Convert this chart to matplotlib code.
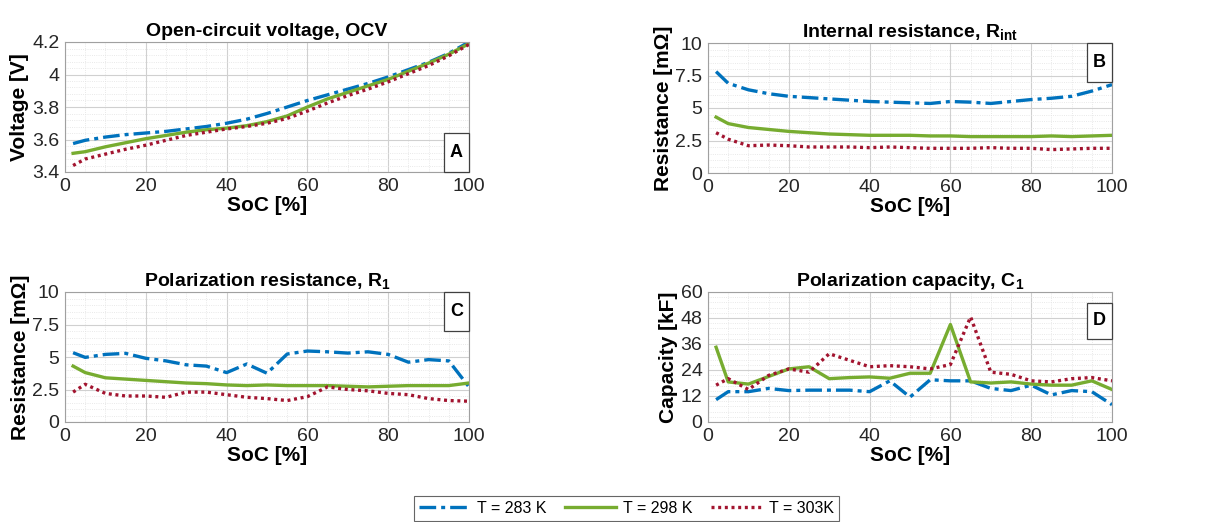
import matplotlib
matplotlib.use("Agg")
import matplotlib.pyplot as plt
import numpy as np
from matplotlib.ticker import MultipleLocator, AutoMinorLocator
from matplotlib.patches import Rectangle

plt.rcParams['font.family'] = ['Liberation Sans', 'DejaVu Sans']
plt.rcParams['mathtext.fontset'] = 'custom'
plt.rcParams['mathtext.rm'] = 'Liberation Sans'
plt.rcParams['mathtext.bf'] = 'Liberation Sans:bold'

soc = [2, 5, 10, 15, 20, 25, 30, 35, 40, 45, 50, 55, 60, 65, 70, 75, 80, 85, 90, 95, 100]

ocv_283 = [3.575, 3.595, 3.615, 3.63, 3.64, 3.65, 3.665, 3.68, 3.70, 3.725, 3.76, 3.80, 3.84, 3.875, 3.91, 3.945, 3.985, 4.03, 4.075, 4.13, 4.20]
ocv_298 = [3.515, 3.525, 3.555, 3.58, 3.605, 3.625, 3.645, 3.66, 3.67, 3.685, 3.71, 3.745, 3.80, 3.85, 3.89, 3.93, 3.97, 4.02, 4.07, 4.125, 4.19]
ocv_303 = [3.44, 3.48, 3.51, 3.54, 3.565, 3.595, 3.625, 3.645, 3.665, 3.68, 3.70, 3.73, 3.775, 3.825, 3.87, 3.91, 3.955, 4.005, 4.055, 4.115, 4.185]

rint_283 = [7.8, 6.9, 6.4, 6.1, 5.9, 5.8, 5.7, 5.6, 5.5, 5.45, 5.4, 5.35, 5.5, 5.45, 5.35, 5.5, 5.65, 5.75, 5.9, 6.3, 6.8]
rint_298 = [4.3, 3.8, 3.5, 3.35, 3.2, 3.1, 3.0, 2.95, 2.9, 2.9, 2.9, 2.85, 2.85, 2.8, 2.8, 2.8, 2.8, 2.85, 2.8, 2.85, 2.9]
rint_303 = [3.1, 2.6, 2.1, 2.15, 2.1, 2.0, 2.0, 2.0, 1.95, 2.0, 1.95, 1.9, 1.9, 1.9, 1.95, 1.9, 1.9, 1.8, 1.85, 1.9, 1.9]

r1_283 = [5.33, 4.97, 5.2, 5.28, 4.9, 4.7, 4.4, 4.3, 3.8, 4.46, 3.75, 5.23, 5.46, 5.4, 5.3, 5.4, 5.2, 4.6, 4.8, 4.7, 2.7]
r1_298 = [4.3, 3.8, 3.4, 3.3, 3.2, 3.1, 3.0, 2.95, 2.85, 2.8, 2.85, 2.8, 2.8, 2.8, 2.75, 2.7, 2.75, 2.8, 2.8, 2.8, 3.0]
r1_303 = [2.3, 2.9, 2.2, 2.0, 2.0, 1.9, 2.3, 2.3, 2.1, 1.9, 1.8, 1.65, 1.95, 2.7, 2.5, 2.4, 2.2, 2.1, 1.8, 1.65, 1.6]

c1_283 = [10.3, 14, 14, 15.5, 14.5, 14.7, 14.7, 14.7, 14, 19, 11.5, 19.5, 19, 19, 15.5, 14.5, 17, 12.5, 14.5, 14, 8]
c1_298 = [34.5, 18.5, 17.5, 21, 24.5, 25.5, 20, 20.5, 20.8, 20.2, 22.5, 22.5, 45, 18.5, 18, 18.5, 17.5, 17, 17, 19, 15]
c1_303 = [17, 20, 15, 21.5, 24.5, 23, 31.5, 28.5, 25.5, 26, 25.5, 24.5, 26.5, 48.5, 23, 22, 19, 18.5, 20, 20.5, 19]

labels = ["T = 283 K", "T = 298 K", "T = 303K"]
colors = ["#0072BD", "#77AC30", "#A2142F"]

titles = ["Open-circuit voltage, OCV", "Internal resistance, R$_{\\mathbf{int}}$",
          "Polarization resistance, R$_{\\mathbf{1}}$", "Polarization capacity, C$_{\\mathbf{1}}$"]
ylabels = ["Voltage [V]", "Resistance [m\u03A9]", "Resistance [m\u03A9]", "Capacity [kF]"]
letters = ["A", "B", "C", "D"]
ylims = [(3.4, 4.2), (0, 10), (0, 10), (0, 60)]
yticklabels = [["3.4", "3.6", "3.8", "4", "4.2"],
               ["0", "2.5", "5", "7.5", "10"],
               ["0", "2.5", "5", "7.5", "10"],
               ["0", "12", "24", "36", "48", "60"]]
data = [(ocv_283, ocv_298, ocv_303), (rint_283, rint_298, rint_303),
        (r1_283, r1_298, r1_303), (c1_283, c1_298, c1_303)]

W, H = 1231, 522
fig = plt.figure(figsize=(W / 100, H / 100), dpi=100)
boxes = [(65, 42, 469, 172), (708, 43, 1112, 173), (65, 292, 469, 422), (708, 292, 1112, 422)]
# letter box (bottom, top) in axes fraction
letter_box = [(0.0, 0.30), (0.70, 1.0), (0.70, 1.0), (0.64, 0.915)]

handles = []
for i in range(4):
    l, t, r, b = boxes[i]
    ax = fig.add_axes([l / W, 1 - b / H, (r - l) / W, (b - t) / H])
    s283, s298, s303 = data[i]
    h1, = ax.plot(soc, s283, color=colors[0], lw=2.4, dashes=(5, 1.5, 1.2, 1.5), label=labels[0])
    h2, = ax.plot(soc, s298, color=colors[1], lw=2.4, label=labels[1])
    h3, = ax.plot(soc, s303, color=colors[2], lw=2.4, dashes=(0.9, 1.1), label=labels[2])
    if i == 0:
        handles = [h1, h2, h3]
    ax.set_xlim(0, 100)
    ax.xaxis.set_major_locator(MultipleLocator(20))
    ax.xaxis.set_minor_locator(MultipleLocator(5))
    n = len(yticklabels[i])
    ax.set_yticks(np.linspace(ylims[i][0], ylims[i][1], n))
    ax.set_yticklabels(yticklabels[i])
    ax.yaxis.set_minor_locator(AutoMinorLocator(5))
    ax.set_ylim(*ylims[i])
    ax.grid(which='major', color='#d0d0d0', lw=0.8)
    ax.grid(which='minor', color='#e2e2e2', lw=0.6, ls=':')
    ax.set_axisbelow(True)
    ax.tick_params(which='both', length=0, labelsize=14, colors='#262626', pad=4)
    for sp in ax.spines.values():
        sp.set_color('#a0a0a0')
        sp.set_linewidth(0.8)
    ax.set_title(titles[i], fontsize=14, fontweight='bold', pad=4)
    ax.set_ylabel(ylabels[i], fontsize=15, fontweight='bold', labelpad=2)
    ax.set_xlabel("SoC [%]", fontsize=15, fontweight='bold', labelpad=1)
    yb, yt = letter_box[i]
    ax.add_patch(Rectangle((0.938, yb), 0.062, yt - yb, transform=ax.transAxes,
                           fc='white', ec='#404040', lw=0.9, zorder=5, clip_on=False))
    ax.text(0.969, (yb + yt) / 2, letters[i], transform=ax.transAxes, ha='center', va='center',
            fontsize=13, fontweight='bold', zorder=6)

leg = fig.legend(handles=handles, labels=labels, loc='center', bbox_to_anchor=(626.5 / W, 1 - 508.5 / H),
                 ncol=3, fontsize=11.5, frameon=True, fancybox=False, edgecolor='#404040',
                 handlelength=3.2, handletextpad=0.4, columnspacing=1.2, borderpad=0.3)
leg.get_frame().set_linewidth(0.8)

fig.savefig("out.png", dpi=100)
